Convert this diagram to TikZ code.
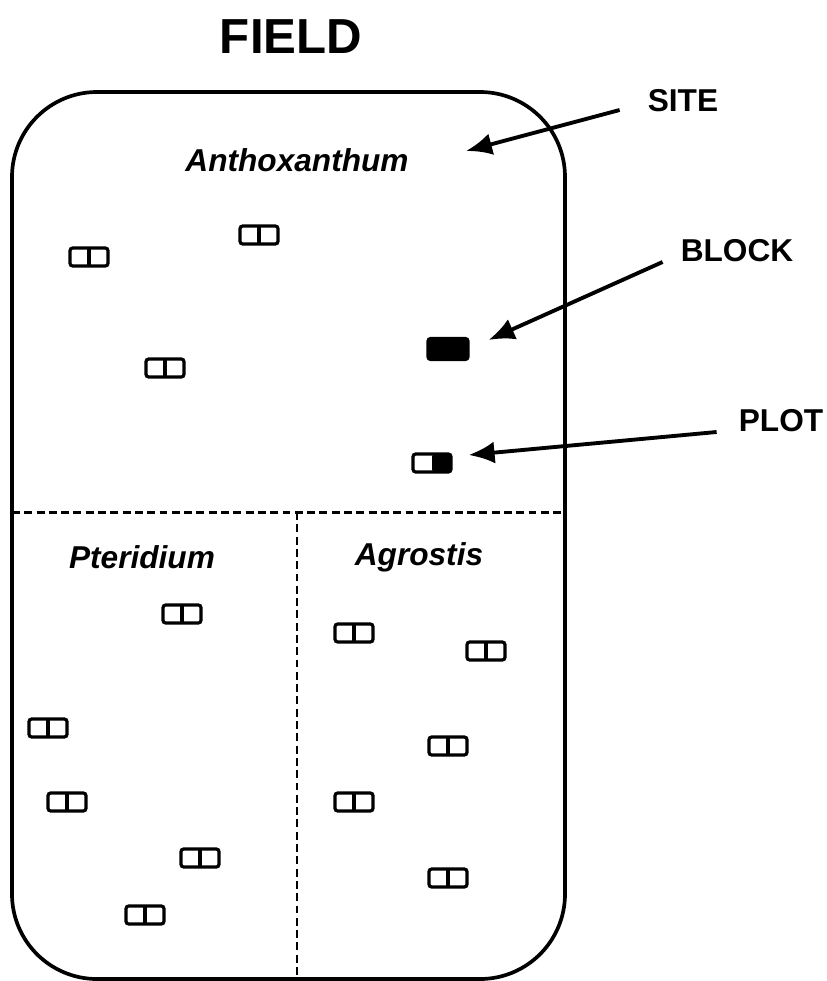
\documentclass[tikz,border=0pt]{standalone}
\usepackage{fontspec}
\setmainfont{Liberation Sans}
\usepackage{tikz}
\usetikzlibrary{arrows.meta,calc,positioning}
\tikzset{
  border/.style={black,line width=2.1pt},
  divide/.style={black,line width=1.7pt,dash pattern=on 4.5pt off 2.5pt},
  pointer/.style={black,line width=2.2pt,-{Latex[length=0.52cm,width=0.44cm]}},
  tag/.style={font=\fontsize{18}{20}\selectfont\bfseries},
  species/.style={font=\fontsize{18}{20}\selectfont\bfseries\itshape},
  pair/.style={draw,line width=1.8pt,rounded corners=1.5pt,inner sep=0pt,
    minimum width=0.76cm,minimum height=0.36cm,
    path picture={\draw[line width=1.8pt] (path picture bounding box.north) -- (path picture bounding box.south);}},
  fullblock/.style={pair,fill=black,minimum width=0.8cm,minimum height=0.42cm,path picture={}},
  halfblock/.style={pair,path picture={\fill (path picture bounding box.north) rectangle (path picture bounding box.south east);}}
}

\begin{document}
\begin{tikzpicture}[x=0.02cm,y=-0.02cm]
\useasboundingbox (0,0) rectangle (826,981);
% field outline and site boundaries
\draw[border,rounded corners=1.7cm] (12,92) rectangle (565,979);
\draw[divide] (12,512) -- (565,512);
\draw[divide] (297,512) -- (297,979);
% titles
\node[font=\fontsize{28}{32}\selectfont\bfseries] (field) at (291,37) {FIELD};
\node[species] (antho) at (297,160) {Anthoxanthum};
\node[species] (pter) at (142,557) {Pteridium};
\node[species] (agro) at (419,557) {Agrostis};
% labels on the right
\node[tag] (site) at (683,101) {SITE};
\node[tag] (blocklab) at (737,251) {BLOCK};
\node[tag] (plotlab) at (781,421) {PLOT};
% blocks, Anthoxanthum
\node[pair] (a1) at (89,257) {};
\node[pair] (a2) at (259,235) {};
\node[pair] (a3) at (165,368) {};
\node[fullblock] (a4) at (448,349) {};
\node[halfblock] (a5) at (432,463) {};
% blocks, Pteridium
\node[pair] (p1) at (182,614) {};
\node[pair] (p2) at (48,728) {};
\node[pair] (p3) at (67,802) {};
\node[pair] (p4) at (200,858) {};
\node[pair] (p5) at (145,915) {};
% blocks, Agrostis
\node[pair] (g1) at (354,633) {};
\node[pair] (g2) at (486,651) {};
\node[pair] (g3) at (448,746) {};
\node[pair] (g4) at (354,802) {};
\node[pair] (g5) at (448,878) {};
% arrows
\coordinate (sitetip) at (466,151);
\draw[pointer] ($(site.west)+(-22,9)$) -- (sitetip);
\draw[pointer] ($(blocklab.west)+(-12,11)$) -- ($(a4.east)+(19,-9)$);
\draw[pointer] ($(plotlab.west)+(-16,11)$) -- ($(a5.east)+(16,-8)$);
\end{tikzpicture}
\end{document}
